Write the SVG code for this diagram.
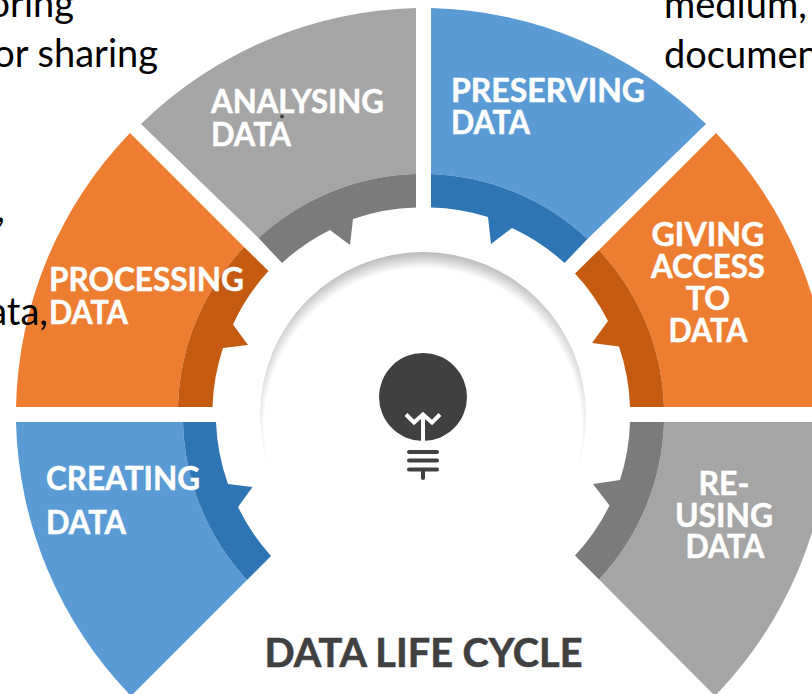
<svg xmlns="http://www.w3.org/2000/svg" width="812" height="694" viewBox="0 0 812 694">
<style>
.lb{font-family:Lato,"Liberation Sans",sans-serif;font-weight:700;font-size:32px;fill:#fff;stroke:#fff;stroke-width:.5px}
.bk{font-family:Lato,"Open Sans",sans-serif;font-size:38px;fill:#000}
.mid{text-anchor:middle}
.blue{fill:#5B9BD5}.bd{fill:#2E75B6}.or{fill:#ED7D31}.od{fill:#C55A11}.gr{fill:#A5A5A5}.gd{fill:#7B7B7B}
</style>
<defs>
<radialGradient id="sh" gradientUnits="userSpaceOnUse" cx="423" cy="427" r="176">
<stop offset="0.9" stop-color="#fff"/><stop offset="1" stop-color="#b4b4b4"/>
</radialGradient>
</defs>
<rect width="812" height="694" fill="#fff"/>
<g id="background-text">
<text class="bk" x="74" y="17" text-anchor="end">oring</text>
<text class="bk" x="158" y="67" text-anchor="end">or sharing</text>
<text class="bk" x="5" y="222" text-anchor="end">,</text>
<text class="bk" x="664" y="18">medium,</text>
<text class="bk" x="664" y="68">documen</text>
</g>
<g id="analysing">
<path class="gr" d="M416 8V174A241 241 0 0 0 258.500 238L141 124A407 407 0 0 1 416 8Z"/>
<path class="gd" d="M416 174V207.500A207 207 0 0 0 353 219L350 245L330 230A207 207 0 0 0 282 263L258.500 238A241 241 0 0 1 416 174Z"/>
<text class="lb" x="211" y="113" textLength="173" lengthAdjust="spacingAndGlyphs">ANALYSING</text>
<text class="lb" x="211" y="146" textLength="80" lengthAdjust="spacingAndGlyphs">DATA</text>
<circle cx="282" cy="116.500" r="2" fill="#404040"/>
</g>
<g id="preserving">
<path class="blue" d="M431 8A407 407 0 0 1 706 124L587.500 239A241 241 0 0 0 431 174Z"/>
<path class="bd" d="M431 174V207.500A207 207 0 0 1 488 217L491 244L512 228A207 207 0 0 1 564.500 263L587.500 239A241 241 0 0 0 431 174Z"/>
<text class="lb" x="451" y="102" textLength="194" lengthAdjust="spacingAndGlyphs">PRESERVING</text>
<text class="lb" x="451" y="134" textLength="79" lengthAdjust="spacingAndGlyphs">DATA</text>
</g>
<g id="processing">
<path class="or" d="M130 133L244 247A241 241 0 0 0 178 407H16A407 407 0 0 1 130 133Z"/>
<path class="od" d="M244 247L268.500 271A207 207 0 0 0 233 324.500L248 345L223 348A207 207 0 0 0 212.500 407H178A241 241 0 0 1 244 247Z"/>
<text class="bk" x="48" y="325" text-anchor="end">ata,</text>
<text class="lb" x="49" y="291" textLength="195" lengthAdjust="spacingAndGlyphs">PROCESSING</text>
<text class="lb" x="49" y="324" textLength="79" lengthAdjust="spacingAndGlyphs">DATA</text>
</g>
<g id="giving-access">
<path class="or" d="M716 133A407 407 0 0 1 830 407H664A241 241 0 0 0 599 250Z"/>
<path class="od" d="M599 250L575 273.500A207 207 0 0 1 608 321L592 343L619 346.500A207 207 0 0 1 630 407H664A241 241 0 0 0 599 250Z"/>
<text class="lb mid" x="708" y="246" textLength="113" lengthAdjust="spacingAndGlyphs">GIVING</text>
<text class="lb mid" x="708" y="278" textLength="114" lengthAdjust="spacingAndGlyphs">ACCESS</text>
<text class="lb mid" x="708" y="310">TO</text>
<text class="lb mid" x="708" y="342" textLength="79" lengthAdjust="spacingAndGlyphs">DATA</text>
</g>
<g id="creating">
<path class="blue" d="M16 422H183A241 241 0 0 0 247 580L131 696A407 407 0 0 1 16 422Z"/>
<path class="bd" d="M183 422H216A207 207 0 0 0 228 484L252.500 487L238 507A207 207 0 0 0 271 556L247 580A241 241 0 0 1 183 422Z"/>
<text class="lb" x="46" y="490" textLength="154" lengthAdjust="spacingAndGlyphs">CREATING</text>
<text class="lb" x="46" y="534" textLength="80" lengthAdjust="spacingAndGlyphs">DATA</text>
</g>
<g id="re-using">
<path class="gr" d="M664 422H830A407 407 0 0 1 715 696L599 579.500A241 241 0 0 0 664 422Z"/>
<path class="gd" d="M630 422H664A241 241 0 0 1 599 579.500L575 555.500A207 207 0 0 0 609.500 505.500L593 484L620 480A207 207 0 0 0 630 422Z"/>
<text class="lb mid" x="724" y="495">RE-</text>
<text class="lb mid" x="724" y="527" textLength="98" lengthAdjust="spacingAndGlyphs">USING</text>
<text class="lb mid" x="725" y="558" textLength="79" lengthAdjust="spacingAndGlyphs">DATA</text>
</g>
<g id="hub">
<circle cx="423" cy="415" r="163" fill="url(#sh)"/>
<circle cx="423" cy="397" r="44" fill="#404040"/>
<path d="M406 414.500L414 422.500L423 414.500L432 422.500L440 414.500M423 416V442" fill="none" stroke="#fff" stroke-width="4"/>
<path d="M409 452H437M409 460.500H437M409 469.500H437M423 469.500V478" fill="none" stroke="#404040" stroke-width="4" stroke-linecap="round"/>
</g>
<text id="title" x="423.500" y="667" text-anchor="middle" textLength="318" lengthAdjust="spacingAndGlyphs" font-family="Lato,'Liberation Sans',sans-serif" font-weight="700" font-size="40" fill="#404040" stroke="#404040" stroke-width=".6">DATA LIFE CYCLE</text>
</svg>
